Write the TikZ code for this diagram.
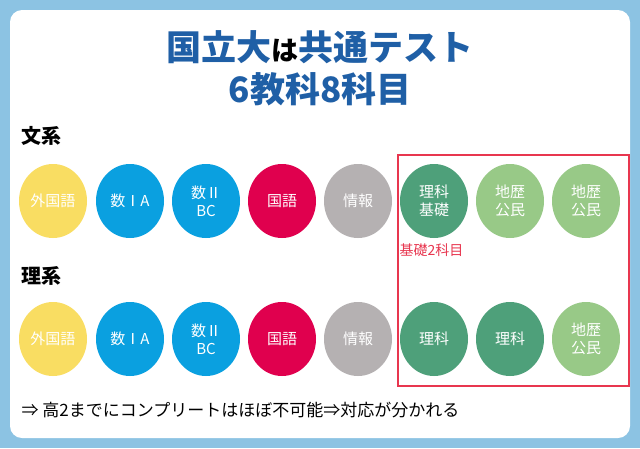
\documentclass[tikz,border=0pt]{standalone}
\usepackage{fontspec}
\setmainfont{Noto Sans CJK JP}
\usetikzlibrary{shapes.geometric}
\definecolor{bgblue}{HTML}{8CC3E3}
\definecolor{ttlblue}{HTML}{1F5FA6}
\definecolor{cyel}{HTML}{F9DD62}
\definecolor{cblue}{HTML}{0AA0E0}
\definecolor{cred}{HTML}{E0004E}
\definecolor{cgray}{HTML}{B5B1B2}
\definecolor{cdg}{HTML}{4EA07A}
\definecolor{clg}{HTML}{98C987}
\definecolor{boxred}{HTML}{E8364F}
\tikzset{
 subj/.style={ellipse,minimum width=68pt,minimum height=74pt,inner sep=0pt,text=white,font=\fontsize{15}{18}\selectfont,align=center},
 grp/.style={font=\fontsize{20}{24}\selectfont\bfseries,anchor=west}
}
\begin{document}
\begin{tikzpicture}[x=1pt,y=-1pt]
\fill[bgblue] (0,0) rectangle (640,448);
\fill[white,rounded corners=12pt] (10,10) rectangle (630,438);
\useasboundingbox (0,0) rectangle (640,448);
\node[font=\fontsize{35}{40}\selectfont\bfseries,text=ttlblue] (t1) at (320,47) {国立大{\color{black}\fontsize{27}{30}\selectfont は}共通テスト};
\node[font=\fontsize{35}{40}\selectfont\bfseries,text=ttlblue] (t2) at (320,89) {6教科8科目};
\node[grp] (g1) at (18,136) {文系};
\node[grp] (g2) at (18,276) {理系};
\foreach \y/\r in {201/a,339/b}{
 \node[subj,fill=cyel] (\r1) at (53,\y) {外国語};
 \node[subj,fill=cblue] (\r2) at (130,\y) {数ⅠA};
 \node[subj,fill=cblue] (\r3) at (206,\y) {数Ⅱ\\BC};
 \node[subj,fill=cred] (\r4) at (282,\y) {国語};
 \node[subj,fill=cgray] (\r5) at (358,\y) {情報};
}
\node[subj,fill=cdg] (a6) at (434,201) {理科\\基礎};
\node[subj,fill=clg] (a7) at (510,201) {地歴\\公民};
\node[subj,fill=clg] (a8) at (586,201) {地歴\\公民};
\node[subj,fill=cdg] (b6) at (434,339) {理科};
\node[subj,fill=cdg] (b7) at (510,339) {理科};
\node[subj,fill=clg] (b8) at (586,339) {地歴\\公民};
\node[draw=boxred,line width=1.5pt,minimum width=231pt,minimum height=231pt,anchor=north west] (box) at (397,154) {};
\node[text=boxred,font=\fontsize{14}{16}\selectfont,anchor=west] (kiso) at (396,250) {基礎2科目};
\node[font=\fontsize{17}{20}\selectfont,anchor=west] (foot) at (18,410) {⇒ 高2までにコンプリートはほぼ不可能⇒対応が分かれる};
\end{tikzpicture}
\end{document}
